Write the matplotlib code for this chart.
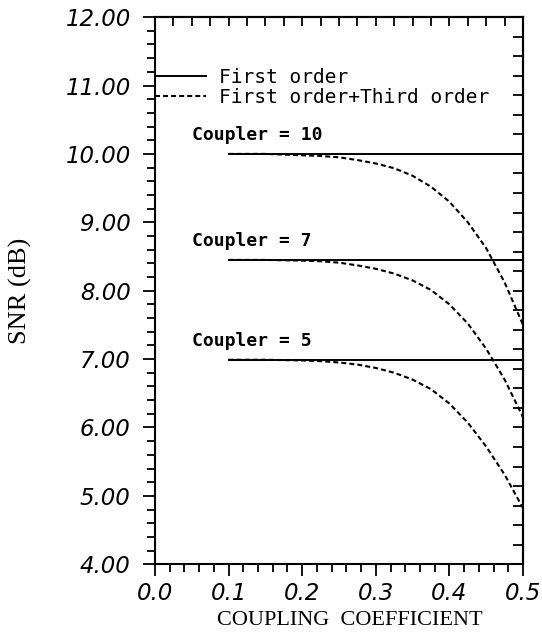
import numpy as np
import matplotlib
matplotlib.use("Agg")
import matplotlib.pyplot as plt
from matplotlib.ticker import MultipleLocator, FixedLocator

plt.rcParams["lines.scale_dashes"] = False

# coupling coefficient grid
k = [0.10, 0.15, 0.20, 0.225, 0.25, 0.275, 0.30, 0.325, 0.35, 0.375,
     0.40, 0.425, 0.45, 0.475, 0.50]

# first order SNR (dB) for each coupler
couplers = [10, 7, 5]
snr_first = [10.0, 8.45, 6.99]

# first + third order SNR (dB)
snr_third_10 = [10.0, 10.0, 9.98, 9.97, 9.95, 9.91, 9.86, 9.79, 9.68, 9.52,
                9.30, 9.00, 8.62, 8.12, 7.50]
snr_third_7 = [8.45, 8.45, 8.44, 8.43, 8.41, 8.37, 8.32, 8.25, 8.15, 8.01,
               7.80, 7.52, 7.15, 6.70, 6.15]
snr_third_5 = [6.99, 6.99, 6.98, 6.97, 6.95, 6.92, 6.87, 6.80, 6.70, 6.56,
               6.35, 6.07, 5.72, 5.31, 4.82]
snr_third = [snr_third_10, snr_third_7, snr_third_5]

tick_font = {"family": "DejaVu Sans", "style": "italic", "size": 16.5}
mono = "DejaVu Sans Mono"

fig = plt.figure(figsize=(5.42, 6.34), dpi=100)
ax = fig.add_axes([0.286, 0.110, 0.679, 0.863])

solid_handle = None
dashed_handle = None
for c, base, third in zip(couplers, snr_first, snr_third):
    h1, = ax.plot([k[0], k[-1]], [base, base], color="black", lw=1.4)
    h2, = ax.plot(k, third, color="black", lw=1.5, dashes=(3.6, 2.2))
    ax.text(0.05, base + 0.28, f"Coupler = {c}", fontsize=13, family=mono,
            fontweight="bold", va="center", ha="left")
    if solid_handle is None:
        solid_handle, dashed_handle = h1, h2

ax.legend([solid_handle, dashed_handle], ["First order", "First order+Third order"],
          loc="upper left", bbox_to_anchor=(0.0, 0.907), frameon=False,
          prop={"family": mono, "size": 14}, handlelength=2.6, handletextpad=0.7,
          labelspacing=0.05, borderpad=0, borderaxespad=0)

ax.set_xlim(0, 0.5)
ax.set_ylim(4, 12)
ax.xaxis.set_minor_locator(MultipleLocator(0.02))
ax.yaxis.set_minor_locator(MultipleLocator(0.2))
ax.set_xticks(np.arange(0, 0.51, 0.1))
ax.set_xticklabels([f"{v:.1f}" for v in np.arange(0, 0.51, 0.1)], fontdict=tick_font)
ax.set_yticks(np.arange(4, 12.1, 1))
ax.set_yticklabels([f"{v:.2f}" for v in np.arange(4, 12.1, 1)], fontdict=tick_font)

ax.tick_params(which="both", direction="out", width=1.3, top=False, right=False)
ax.tick_params(which="major", length=8.5)
ax.tick_params(which="minor", length=5.5)
ax.tick_params(axis="y", pad=9)
ax.tick_params(axis="x", pad=4)
for sp in ax.spines.values():
    sp.set_linewidth(1.5)

# top and right axes carry their own tick spacing
top = ax.secondary_xaxis("top")
top.xaxis.set_major_locator(FixedLocator(np.linspace(0, 0.5, 21)))
top.tick_params(direction="in", length=6.5, width=1.3, labeltop=False)
top.spines["top"].set_linewidth(1.5)
right = ax.secondary_yaxis("right")
right.yaxis.set_major_locator(FixedLocator(np.linspace(4, 12, 29)))
right.tick_params(direction="in", length=7, width=1.3, labelright=False)
right.spines["right"].set_linewidth(1.5)

ax.set_xlabel("COUPLING  COEFFICIENT", family="Liberation Serif", fontsize=16)
ax.xaxis.set_label_coords(0.53, -0.085)
ax.set_ylabel("SNR (dB)", family="Liberation Serif", fontsize=19)
ax.yaxis.set_label_coords(-0.335, 0.5)

fig.savefig("out.png", dpi=100)
